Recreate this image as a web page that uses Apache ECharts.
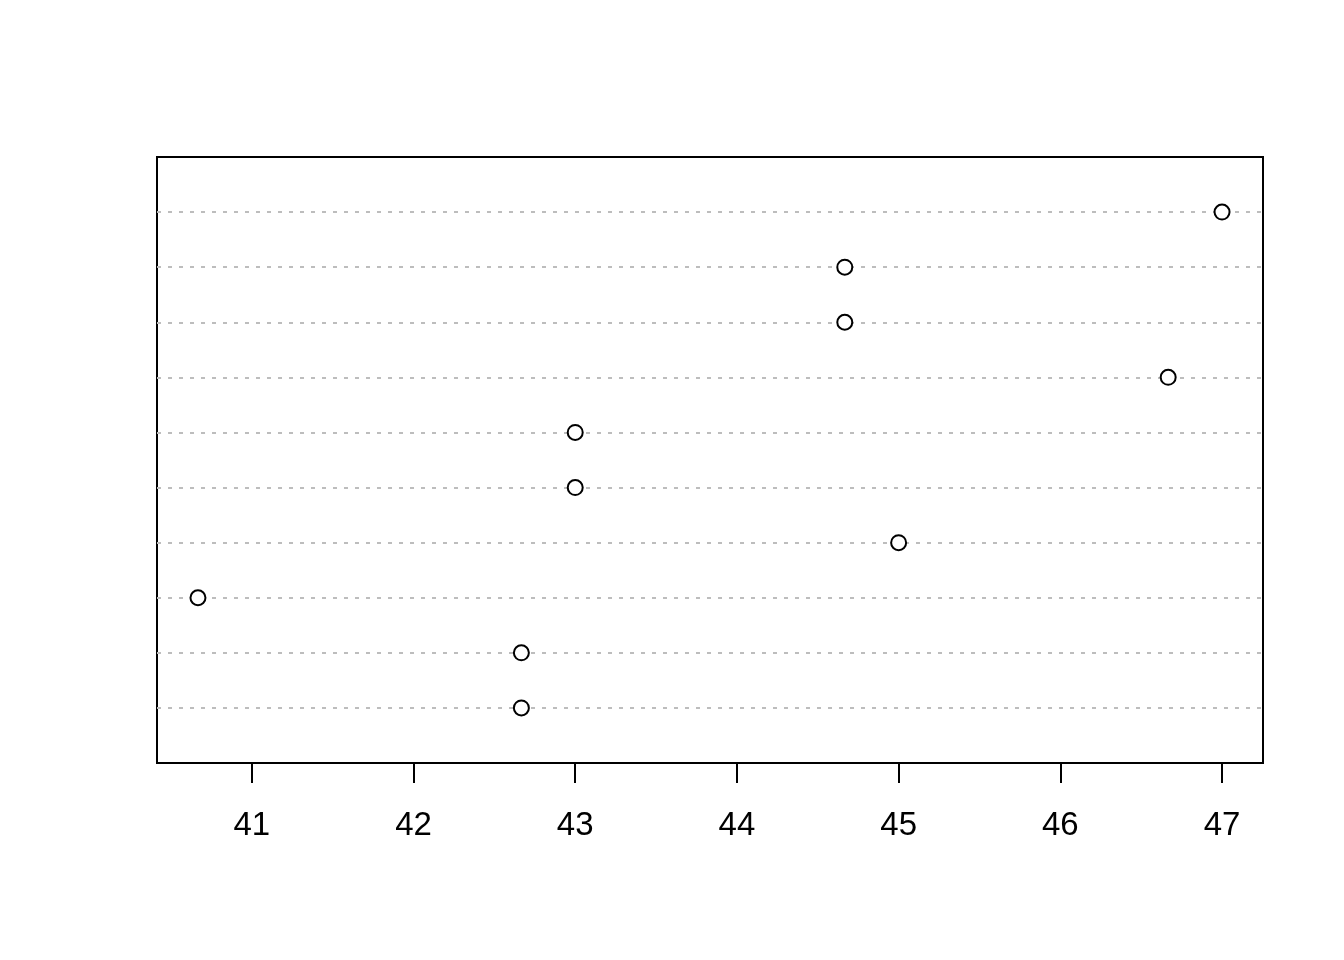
<!DOCTYPE html>
<html>
<head>
<meta charset="utf-8">
<script src="https://cdn.jsdelivr.net/npm/echarts@6/dist/echarts.min.js"></script>
<style>
html,body{margin:0;padding:0;background:#fff;}
#chart{width:1344px;height:960px;}
</style>
</head>
<body>
<div id="chart"></div>
<script>
// values listed top row to bottom row
const values = [47, 44.667, 44.667, 46.667, 43, 43, 45, 40.667, 42.667, 42.667];
const xTicks = [41, 42, 43, 44, 45, 46, 47];

const n = values.length;
const dataMin = Math.min(...values), dataMax = Math.max(...values);
const pad = (dataMax - dataMin) * 0.04;
const points = values.map((v, i) => [v, n - i]);

const chart = echarts.init(document.getElementById('chart'), null, {renderer: 'canvas'});
chart.setOption({
  animation: false,
  backgroundColor: '#fff',
  grid: {left: 157, top: 157, width: 1106, height: 606, show: true, borderColor: '#000', borderWidth: 2, backgroundColor: 'transparent'},
  xAxis: {
    type: 'value',
    min: dataMin - pad,
    max: dataMax + pad,
    axisLine: {show: true, lineStyle: {color: '#000', width: 2}},
    axisTick: {show: true, customValues: xTicks, length: 20, lineStyle: {color: '#000', width: 2}},
    axisLabel: {show: true, customValues: xTicks, margin: 46, color: '#000', fontSize: 33, fontFamily: 'Liberation Sans, Arial, sans-serif'},
    splitLine: {show: false}
  },
  yAxis: {
    type: 'value',
    min: 0,
    max: n + 1,
    interval: 1,
    axisLine: {show: false},
    axisTick: {show: false},
    axisLabel: {show: false},
    splitLine: {show: true, showMinLine: false, showMaxLine: false, lineStyle: {color: '#bdbdbd', width: 2, type: [4, 7]}}
  },
  series: [{
    type: 'scatter',
    data: points,
    symbol: 'circle',
    symbolSize: 15,
    itemStyle: {color: '#fff', borderColor: '#000', borderWidth: 2, opacity: 1},
    z: 5
  }]
});
</script>
</body>
</html>
